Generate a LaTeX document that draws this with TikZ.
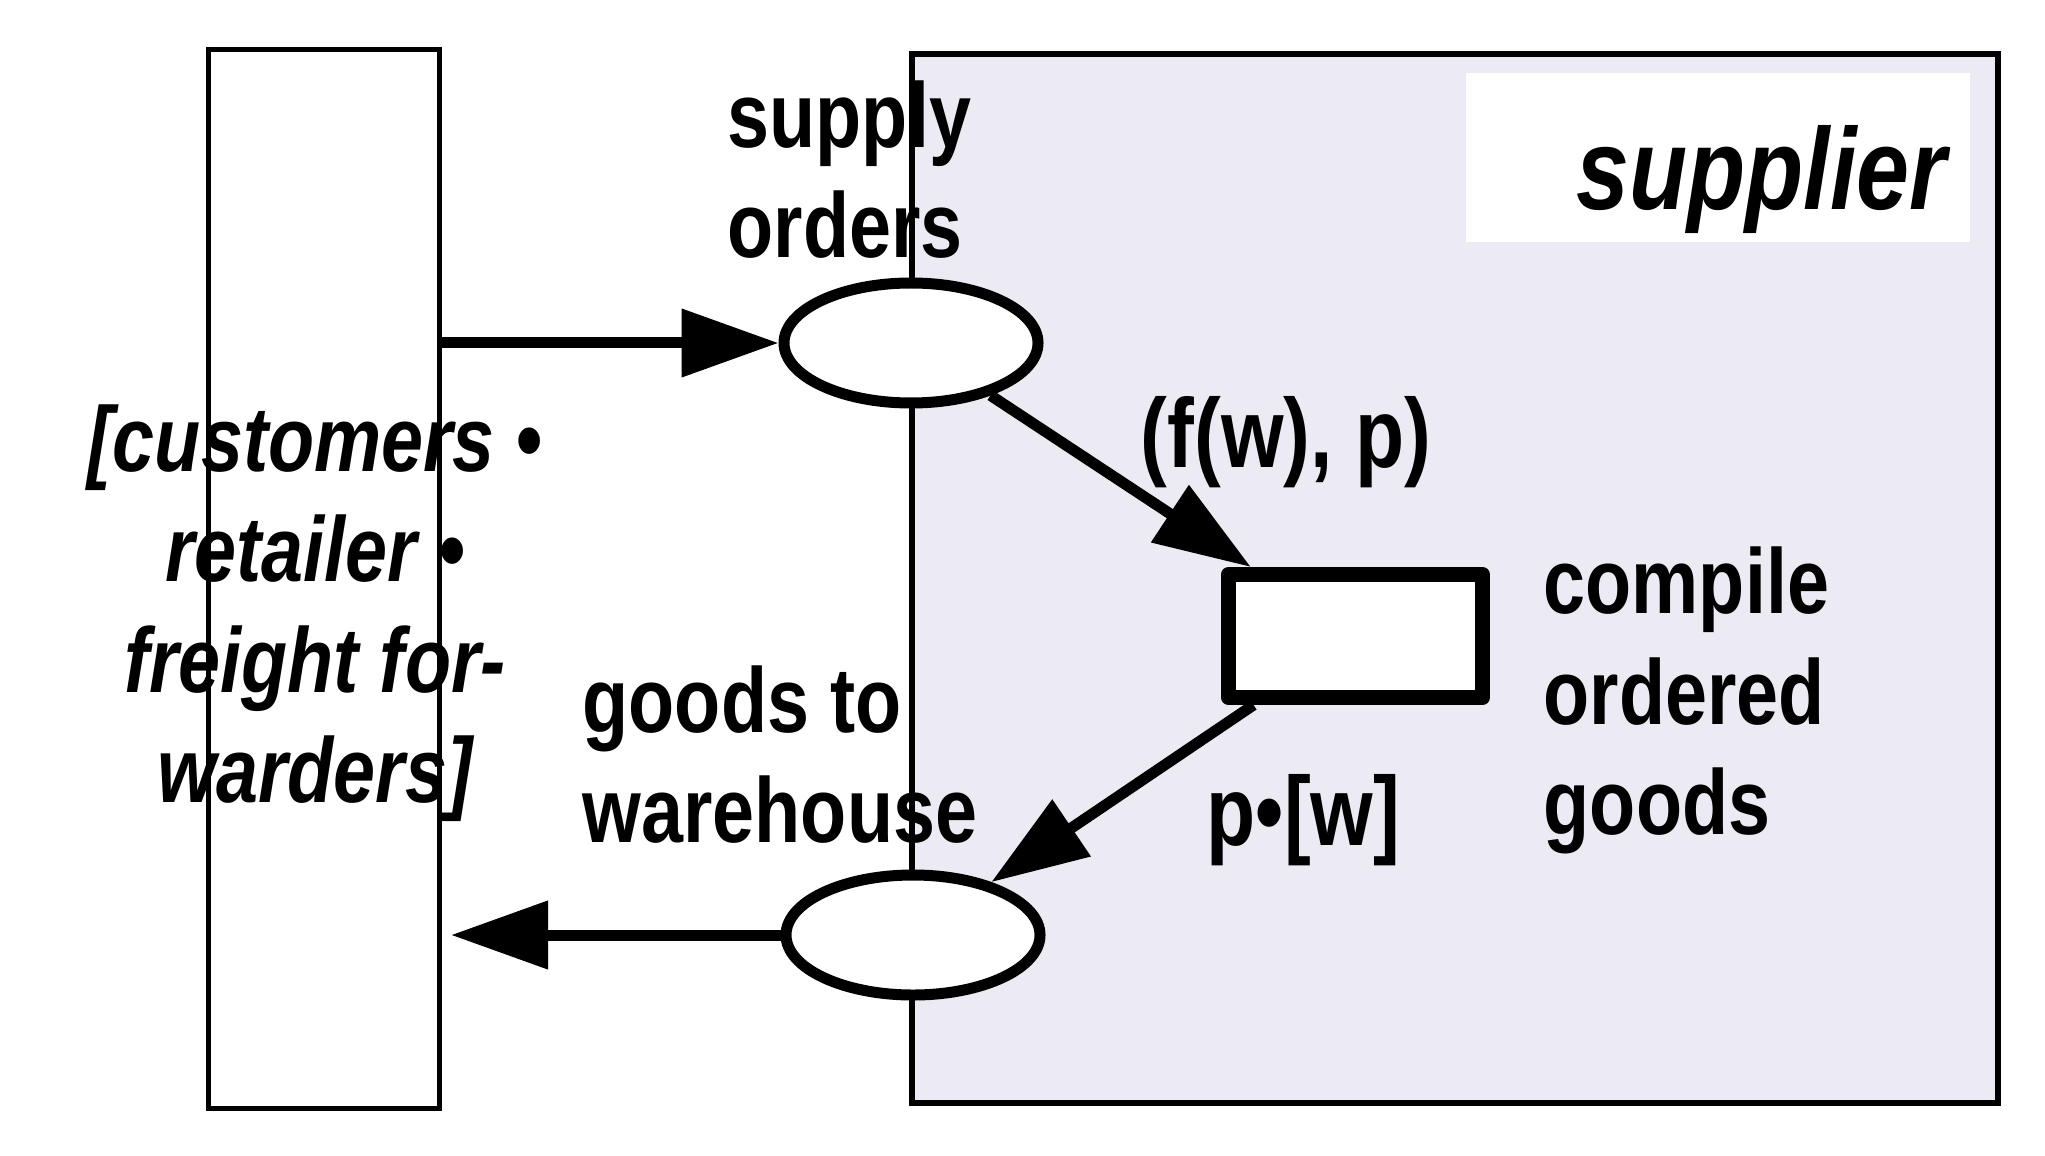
\documentclass[tikz,border=0pt]{standalone}
\usepackage{fontspec}
\setmainfont{Liberation Sans}[FakeStretch=0.82]
\usetikzlibrary{arrows.meta,shapes.geometric,calc}
\definecolor{supfill}{RGB}{236,234,242}
\tikzset{
  lbl/.style={inner sep=0pt,align=left,font=\fontsize{26.2pt}{31.3pt}\selectfont\bfseries},
  arclbl/.style={inner sep=0pt,font=\fontsize{27.9pt}{33pt}\selectfont\bfseries},
  placenode/.style={ellipse,draw,fill=white,line width=0.11cm,minimum width=2.54cm,minimum height=1.2cm,inner sep=0pt},
  transnode/.style={rectangle,draw,fill=white,line width=0.15cm,line join=round,minimum width=2.54cm,minimum height=1.23cm,inner sep=0pt},
  flow/.style={-{Triangle[length=0.97cm,width=0.66cm]},line width=0.11cm},
}

\begin{document}
\begin{tikzpicture}
  \useasboundingbox (0,0) rectangle (20.45,-11.55);
  % supplier region
  \node[draw,fill=supfill,line width=0.06cm,minimum width=10.86cm,minimum height=10.49cm,inner sep=0pt](sup) at (14.55,-5.785){};
  \fill[white] (14.66,-0.73) rectangle (19.70,-2.42);
  \node[inner sep=0pt,anchor=base east,font=\fontsize{33pt}{40pt}\selectfont\bfseries\itshape](supname) at (19.47,-2.10){supplier};
  % environment
  \node[draw,line width=0.05cm,minimum width=2.315cm,minimum height=10.59cm,inner sep=0pt](env) at (3.2375,-5.79){};
  \node[lbl,align=center,anchor=base,font=\fontsize{26.2pt}{31.3pt}\selectfont\bfseries\itshape](envname) at (3.15,-8.02){[customers •\\retailer •\\freight for-\\warders]};
  % net
  \node[lbl,anchor=base west](solbl) at (7.27,-2.58){supply\\orders};
  \node[placenode](so) at (9.11,-3.43){};
  \node[transnode](tr) at (13.555,-6.36){};
  \node[lbl,anchor=base west](trlbl) at (15.43,-8.34){compile\\ordered\\goods};
  \node[placenode](gw) at (9.13,-9.35){};
  \node[lbl,anchor=base west](gwlbl) at (5.82,-8.42){goods to\\warehouse};
  \node[arclbl,anchor=base west](fwp) at (11.40,-4.67){(f(w), p)};
  \node[arclbl,anchor=base west](pw) at (12.06,-8.45){p•[w]};
  \draw[flow] (env.east |- so) -- (so);
  \draw[flow] (so) -- (tr);
  \draw[flow] (tr) -- (gw);
  \draw[flow,shorten >=0.09cm] (gw) -- (gw -| env.east);
\end{tikzpicture}
\end{document}
